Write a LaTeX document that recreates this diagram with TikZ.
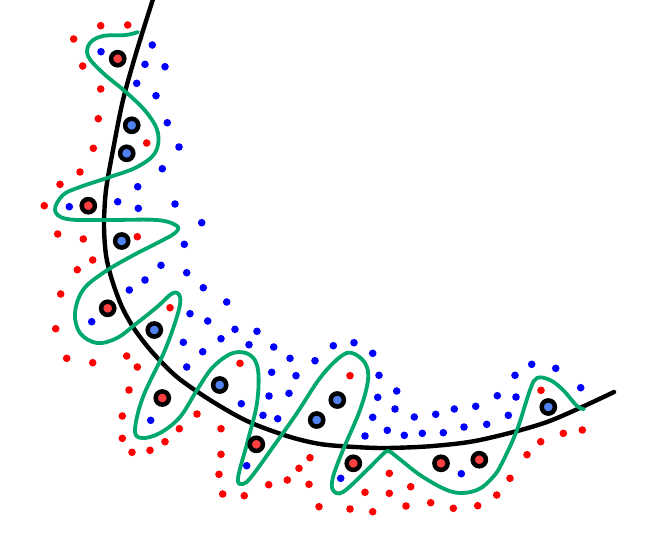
\documentclass[tikz,border=0pt]{standalone}
\begin{document}
\begin{tikzpicture}[x=1pt,y=-1pt,
  reddot/.style={fill=red},
  bluedot/.style={fill=blue},
  bigred/.style={draw=black,line width=4.5pt,fill=bigredfill},
  bigblue/.style={draw=black,line width=4.5pt,fill=bigbluefill},
  boundary/.style={draw=black,line width=4.4pt,line cap=round},
  wiggle/.style={draw=wigglegreen,line width=3.8pt,line cap=round,line join=round}]
\definecolor{bigredfill}{RGB}{255,64,64}
\definecolor{bigbluefill}{RGB}{80,130,240}
\definecolor{wigglegreen}{RGB}{0,168,107}
\useasboundingbox (0,0) rectangle (671,533);
\clip (0,0) rectangle (671,533);
% black boundary
\draw[boundary] plot[smooth,tension=0.5] coordinates {(154,-4) (137,50) (123,100) (113,150) (106,190) (104,225) (106,255) (112,280) (122,307) (135,330) (153,353) (177,377) (210,400) (247,421) (287,436) (320,444) (355,447) (387,448) (433,446) (480,440) (547,422) (614,392)};
% green wiggle
\draw[wiggle] plot[smooth,tension=0.6] coordinates {
(138,32) (126,35) (103,36) (90,43) (88,56) (103,73) (127,93) (147,113) (158,133) (155,153) (137,167) (110,177) (80,187) (63,195) (55,210) (67,219) (107,220) (157,220) (177,226) (175,233) (163,240) (130,257) (103,273) (83,290) (75,313) (80,333) (97,343) (117,338) (137,323) (157,307) (173,293) (180,297) (178,313) (165,350) (143,397) (135,430) (142,438) (160,433) (180,417) (197,390) (213,367) (233,353) (250,355) (258,370) (257,403) (248,440) (238,478) (243,484) (252,476) (273,447) (297,413) (320,378) (340,357) (352,353) (365,363) (368,380) (360,410) (343,450) (333,477) (333,490) (343,492) (367,470) (380,457) (388,451) (397,457) (423,477) (453,492) (477,490) (493,477) (502,463) (517,430) (530,390) (537,378) (550,380) (563,390) (577,406) (584,409)};
% red dots
\foreach \p in {(100.7,25.7),(127.7,25),(73.7,39),(82.7,66),(100.7,89),(98.3,118.7),(146.7,143),(93.3,148.3),(80,172),(60,184.3),(44.3,205.7),(57.7,234),(83.3,239),(137.3,236.7),(92.7,260),(77.3,269.7),(60.7,294),(170,307.7),(55.7,328.7),(66.7,358.3),(92.7,362.7),(126.7,356),(137.3,367),(240,363.3),(129,390),(122.3,416),(197,414),(179.3,428.7),(122.3,438.3),(221,428.7),(165,441.7),(150,450.3),(132,452.3),(221,454.3),(310,457.7),(219,474.3),(299,468.3),(287.3,480),(309,484.3),(268.7,484.7),(222.7,494),(244.3,495.7),(319,506.7),(350,375.7),(389.3,473.3),(410.7,486.7),(365,492.3),(389.3,493.3),(350,509),(372.7,511.7),(406,506),(430.7,502.7),(453.3,508.3),(477.7,505.7),(496.7,495),(541,390.3),(563.3,433.3),(582.3,430),(540.7,441.7),(527,454.7),(510,478.3)}
  \fill[reddot] \p circle (3.8);
% blue dots
\foreach \p in {(101,51.7),(152.3,45),(145,64.3),(165,66.7),(136.7,83.3),(156,95.7),(167.3,122.7),(179,147),(162.3,168.7),(137.7,186.7),(69.3,206.7),(117.7,201.7),(138.3,208.3),(175,204),(201.7,222.7),(184.3,244.3),(161,265.3),(145,280),(129.3,290),(186.7,272.7),(203.3,287.7),(226.7,302),(190,313.7),(207.7,321),(91.7,321.7),(221,338.7),(183.3,342.3),(202.7,351.7),(186.7,367),(235,329.3),(257,331.3),(249,344.7),(273.7,347),(290,358.3),(315,360.7),(271.7,372.3),(296,375.7),(289,393.3),(269,396),(241.3,403.7),(263,415.3),(277.7,418.7),(150.7,420.3),(246.7,465.7),(333.3,345.7),(354,342.7),(372.7,353.3),(379,375.3),(396.7,391),(377.7,397.3),(395,409),(372.7,417.3),(414.3,417),(435.7,414.3),(454.3,409),(475.7,406.3),(497.3,395.7),(387.3,430.3),(404.3,435.3),(422.3,433.3),(443.3,432.7),(464,427),(486.7,424.3),(365,436),(340.7,478.3),(461.3,473.7),(531.7,364.3),(555.7,368.3),(515,375.3),(516,397),(580.7,387.7),(508.3,415.3)}
  \fill[bluedot] \p circle (3.8);
% large circles
\foreach \p in {(117.7,58.7),(88.3,205.7),(107.7,308.3),(162.3,398),(256.3,444.3),(353.3,463.3),(441,463.3),(479.3,459.7)}
  \draw[bigred] \p circle (6.6);
\foreach \p in {(131.7,125.3),(126.7,153.3),(121.7,241),(154.3,330),(219.7,385),(316.7,420),(337.3,400),(548.3,407)}
  \draw[bigblue] \p circle (6.6);
\end{tikzpicture}
\end{document}
